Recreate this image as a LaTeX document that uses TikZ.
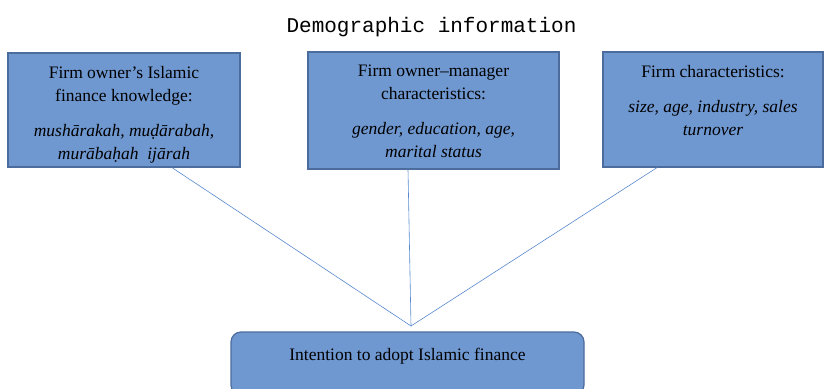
\documentclass[tikz,border=0pt]{standalone}
\usepackage{fontspec}
\setmainfont{Liberation Serif}[
  UprightFont=Liberation Serif,
  ItalicFont=Liberation Serif Italic,
  BoldFont=Liberation Serif Bold]
\setmonofont{Liberation Mono}
\usetikzlibrary{positioning}

\definecolor{boxblue}{RGB}{111,151,208}
\definecolor{boxline}{RGB}{76,108,158}
\definecolor{linkblue}{RGB}{88,136,206}

\begin{document}
\begin{tikzpicture}
[x=1pt, y=-1pt, line width=0.75pt,
box/.style={rectangle, draw=boxline, fill=boxblue, inner sep=0pt, line width=1.2pt},
boxtext/.style={anchor=north, align=center, inner sep=0pt, font=\fontsize{17.5}{23}\selectfont},
link/.style={draw=linkblue, line width=0.6pt}]

\useasboundingbox (0,0) rectangle (824,388);

\node[anchor=base, font=\ttfamily\fontsize{21}{25}\selectfont] (title) at (431.5,32) {Demographic information};

% the three boxes
\node[box, minimum width=232pt, minimum height=114pt] (knowledge) at (124,110) {};
\node[box, minimum width=251pt, minimum height=117pt] (owner) at (433.5,110.5) {};
\node[box, minimum width=220pt, minimum height=115pt] (firm) at (713,109.5) {};

\node[boxtext, below=13.5pt of knowledge.north] (knowledgetext)
  {Firm owner’s Islamic\\ finance knowledge:\\[12pt]
   \textit{mushārakah, muḍārabah,}\\ \textit{murābaḥah\ \ ijārah}};
\node[boxtext, below=13.5pt of owner.north] (ownertext)
  {Firm owner–manager\\ characteristics:\\[12pt]
   \textit{gender, education, age,}\\ \textit{marital status}};
\node[boxtext, below=13.5pt of firm.north] (firmtext)
  {Firm characteristics:\\[12pt]
   \textit{size, age, industry, sales}\\ \textit{turnover}};

% outcome
\node[box, rounded corners=10pt, minimum width=353pt, minimum height=63pt] (intention) at (407.5,363.5) {};
\node[anchor=base, font=\fontsize{17.5}{23}\selectfont] (intentiontext) at (407.5,360) {Intention to adopt Islamic finance};

\coordinate (meet) at (411,326);
\draw[link] (knowledge.south -| 172,0) -- (meet);
\draw[link] (owner.south -| 408,0) -- (meet);
\draw[link] (firm.south -| 657,0) -- (meet);
\end{tikzpicture}
\end{document}
